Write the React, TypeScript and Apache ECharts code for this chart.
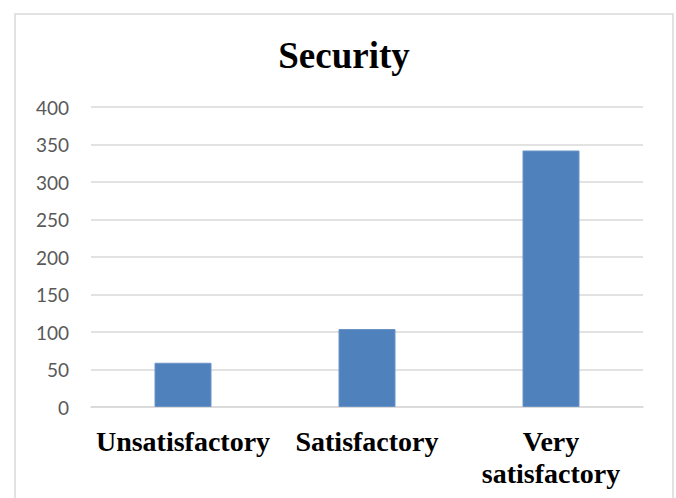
import React, { useEffect, useRef } from "react";
import * as echarts from "echarts";

const title = "Security";
const categories = ["Unsatisfactory", "Satisfactory", "Very\nsatisfactory"];
const responses = [59, 104, 342];
const yTicks = [0, 50, 100, 150, 200, 250, 300, 350, 400];

export default function App() {
  const ref = useRef<HTMLDivElement>(null);

  useEffect(() => {
    if (!ref.current) return;
    const chart = echarts.init(ref.current, undefined, { renderer: "svg" });
    chart.setOption({
      animation: false,
      backgroundColor: "#ffffff",
      graphic: [
        {
          type: "rect",
          shape: { x: 15, y: 14, width: 658, height: 500 },
          style: { fill: "none", stroke: "#d9d9d9", lineWidth: 1.5 },
          silent: true,
        },
        {
          type: "text",
          x: 344,
          y: 55,
          style: {
            text: title,
            align: "center",
            verticalAlign: "middle",
            fontFamily: "Liberation Serif",
            fontWeight: "bold",
            fontSize: 37,
            fill: "#000000",
          },
          silent: true,
        },
      ],
      grid: { left: 91, right: 33, top: 107, bottom: 91 },
      xAxis: {
        type: "category",
        data: categories,
        axisLine: { lineStyle: { color: "#d9d9d9", width: 1.5 } },
        axisTick: { show: false },
        axisLabel: {
          interval: 0,
          margin: 18,
          fontFamily: "Liberation Serif",
          fontWeight: "bold",
          fontSize: 28,
          lineHeight: 32,
          color: "#000000",
        },
      },
      yAxis: {
        type: "value",
        min: yTicks[0],
        max: yTicks[yTicks.length - 1],
        interval: yTicks[1] - yTicks[0],
        axisLine: { show: false },
        axisTick: { show: false },
        splitLine: { lineStyle: { color: "#d9d9d9", width: 1.5 } },
        axisLabel: {
          margin: 22,
          fontFamily: "Lato",
          fontSize: 19,
          color: "#595959",
        },
      },
      series: [
        {
          type: "bar",
          data: responses,
          barWidth: 57,
          itemStyle: {
            color: "#4f81bd",
            borderColor: "#6b94c6",
            borderWidth: 1,
          },
        },
      ],
    });
    return () => chart.dispose();
  }, []);

  return (
    <div
      ref={ref}
      style={{ position: "fixed", left: 0, top: 0, width: 676, height: 498 }}
    />
  );
}
